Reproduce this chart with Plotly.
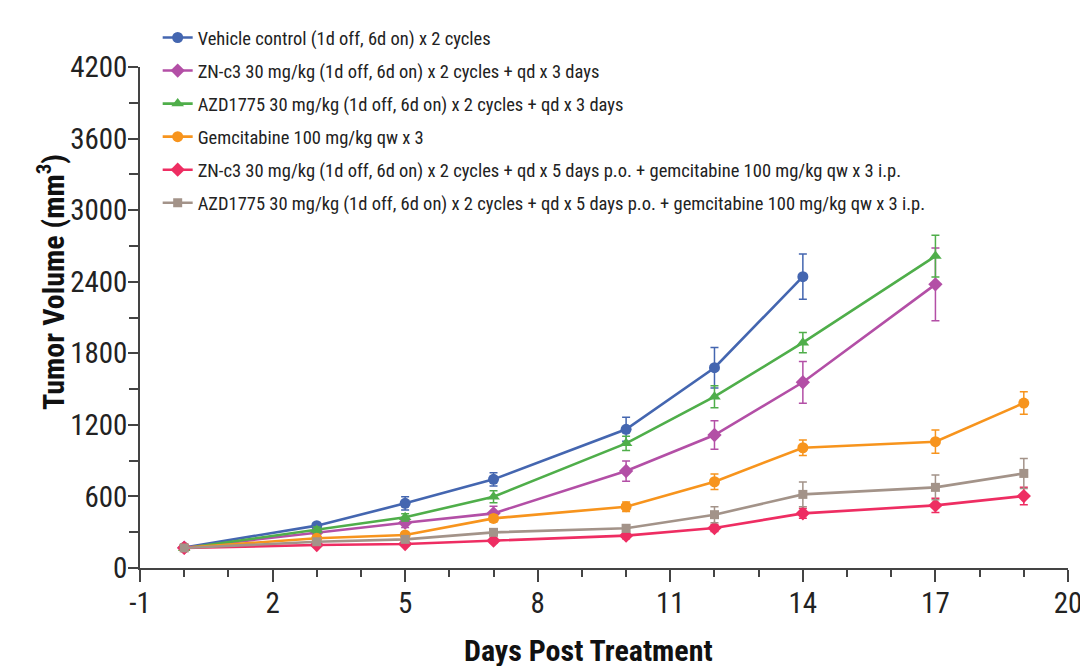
import plotly.graph_objects as go

series_names = [
    "Vehicle control (1d off, 6d on) x 2 cycles",
    "ZN-c3 30 mg/kg (1d off, 6d on) x 2 cycles + qd x 3 days",
    "AZD1775 30 mg/kg (1d off, 6d on) x 2 cycles + qd x 3 days",
    "Gemcitabine 100 mg/kg qw x 3",
    "ZN-c3 30 mg/kg (1d off, 6d on) x 2 cycles + qd x 5 days p.o. + gemcitabine 100 mg/kg qw x 3 i.p.",
    "AZD1775 30 mg/kg (1d off, 6d on) x 2 cycles + qd x 5 days p.o. + gemcitabine 100 mg/kg qw x 3 i.p.",
]

vehicle_days = [0, 3, 5, 7, 10, 12, 14]
vehicle_vals = [172, 355, 542, 743, 1163, 1679, 2442]
vehicle_err = [15, 25, 55, 55, 100, 170, 190]

znc3_days = [0, 3, 5, 7, 10, 12, 14, 17]
znc3_vals = [170, 299, 380, 458, 813, 1115, 1557, 2378]
znc3_err = [15, 25, 40, 60, 85, 120, 175, 305]

azd_days = [0, 3, 5, 7, 10, 12, 14, 17]
azd_vals = [165, 318, 425, 598, 1045, 1436, 1889, 2615]
azd_err = [15, 25, 30, 50, 60, 92, 85, 175]

gem_days = [0, 3, 5, 7, 10, 12, 14, 17, 19]
gem_vals = [170, 249, 277, 416, 514, 723, 1008, 1059, 1383]
gem_err = [15, 20, 25, 30, 40, 65, 65, 98, 95]

znc3_gem_days = [0, 3, 5, 7, 10, 12, 14, 17, 19]
znc3_gem_vals = [168, 193, 201, 229, 271, 335, 458, 525, 603]
znc3_gem_err = [15, 15, 15, 20, 25, 30, 40, 60, 73]

azd_gem_days = [0, 3, 5, 7, 10, 12, 14, 17, 19]
azd_gem_vals = [168, 220, 240, 299, 333, 447, 617, 676, 793]
azd_gem_err = [15, 20, 20, 25, 30, 67, 103, 103, 126]

y_ticks = [0, 600, 1200, 1800, 2400, 3000, 3600, 4200]
x_ticks = [-1, 2, 5, 8, 11, 14, 17, 20]

x_title = "Days Post Treatment"
y_title = "Tumor Volume (mm<sup>3</sup>)"

colors = ["#4466b0", "#b34fa6", "#4fae4a", "#f7941d", "#ee2d62", "#a39389"]
symbols = ["circle", "diamond", "triangle-up", "circle", "diamond", "square"]

data = [
    (vehicle_days, vehicle_vals, vehicle_err),
    (znc3_days, znc3_vals, znc3_err),
    (azd_days, azd_vals, azd_err),
    (gem_days, gem_vals, gem_err),
    (znc3_gem_days, znc3_gem_vals, znc3_gem_err),
    (azd_gem_days, azd_gem_vals, azd_gem_err),
]

FONT = "Roboto Condensed, Liberation Sans Narrow, sans-serif"

fig = go.Figure()
for i in range(6):
    xs, ys, es = data[i]
    fig.add_trace(go.Scatter(
        x=xs, y=ys, name=series_names[i], legendgroup=f"g{i}",
        mode="lines+markers",
        line=dict(color=colors[i], width=2.6),
        marker=dict(color=colors[i], symbol=symbols[i], size=11 if symbols[i] != "square" else 9),
        error_y=dict(type="data", array=es, visible=True, color=colors[i], thickness=1.5, width=4),
    ))

fig.update_layout(
    width=1080, height=666,
    margin=dict(l=140, r=12, t=67, b=98, autoexpand=False),
    plot_bgcolor="white", paper_bgcolor="white",
    font=dict(family=FONT, color="#222222"),
    showlegend=True,
    legend=dict(
        xref="container", yref="container",
        x=0.146, y=0.9715, xanchor="left", yanchor="top",
        font=dict(size=18.5, family=FONT, color="#222222"),
        bgcolor="rgba(0,0,0,0)", tracegroupgap=6, itemwidth=30,
        traceorder="grouped",
    ),
    xaxis=dict(
        range=[-1, 20], tickvals=x_ticks, ticktext=[str(v) for v in x_ticks],
        showgrid=False, zeroline=False, showline=True, linecolor="#444444", linewidth=1.5,
        ticks="outside", ticklen=12, tickwidth=1.5, tickcolor="#444444",
        tickfont=dict(size=29, family=FONT, color="#222222"),
        ticklabeloverflow="allow", automargin=False, ticklabelstandoff=-4,
        minor=dict(tick0=-1, dtick=1, ticks="outside", ticklen=7, tickwidth=1.5, tickcolor="#444444"),
    ),
    yaxis=dict(
        range=[0, 4200], tickvals=y_ticks, ticktext=[str(v) for v in y_ticks],
        showgrid=False, zeroline=False, showline=True, linecolor="#444444", linewidth=1.5,
        ticks="outside", ticklen=10, tickwidth=1.5, tickcolor="#444444",
        tickfont=dict(size=29, family=FONT, color="#222222"),
        ticklabeloverflow="allow", automargin=False, ticklabelstandoff=-5,
        minor=dict(tick0=0, dtick=300, ticks="outside", ticklen=9, tickwidth=1.5, tickcolor="#444444"),
    ),
    annotations=[
        dict(text=f"<b>{x_title}</b>", xref="paper", yref="paper", x=0.4828, y=-0.1637,
             xanchor="center", yanchor="middle", showarrow=False,
             font=dict(size=30, family=FONT, color="#111111")),
        dict(text=f"<b>{y_title}</b>", xref="paper", yref="paper", x=-0.0948, y=0.571,
             xanchor="center", yanchor="middle", showarrow=False, textangle=-90,
             font=dict(size=30, family=FONT, color="#111111")),
    ],
)

fig.write_html("out.html", config={"displayModeBar": False},
               post_script="document.body.style.margin='0';document.body.style.padding='0';")
